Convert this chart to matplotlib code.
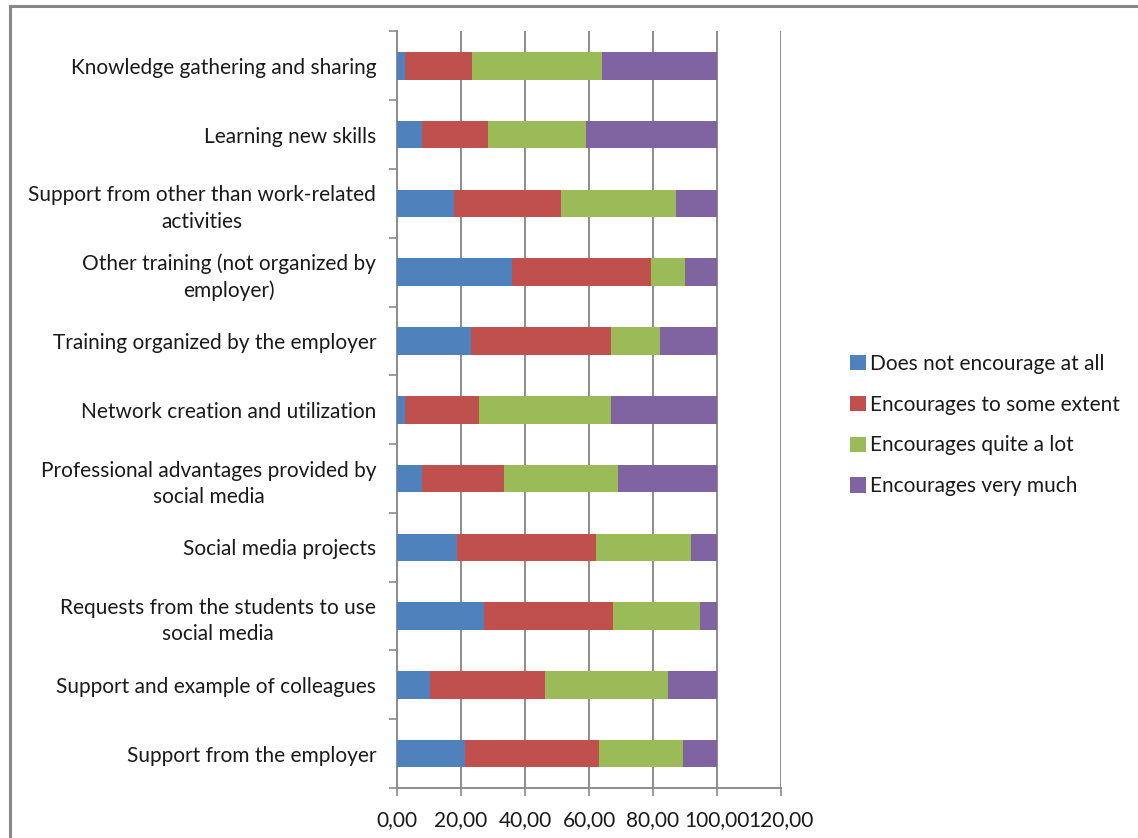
import matplotlib
matplotlib.use("Agg")
import matplotlib.pyplot as plt
from matplotlib.patches import Rectangle
import numpy as np

categories = [
    "Knowledge gathering and sharing",
    "Learning new skills",
    "Support from other than work-related\nactivities",
    "Other training (not organized by\nemployer)",
    "Training organized by the employer",
    "Network creation and utilization",
    "Professional advantages provided by\nsocial media",
    "Social media projects",
    "Requests from the students to use\nsocial media",
    "Support and example of colleagues",
    "Support from the employer",
]
not_at_all = [2.6, 7.7, 17.8, 35.8, 23.2, 2.6, 7.7, 18.9, 27.1, 10.3, 21.4]
some_extent = [20.7, 20.7, 33.4, 43.6, 43.7, 23.0, 25.7, 43.2, 40.4, 35.8, 41.7]
quite_a_lot = [40.8, 30.6, 36.0, 10.6, 15.2, 41.2, 35.8, 29.9, 27.2, 38.7, 26.4]
very_much = [35.9, 41.0, 12.8, 10.0, 17.9, 33.2, 30.8, 8.0, 5.3, 15.2, 10.5]
series_names = ["Does not encourage at all", "Encourages to some extent",
                "Encourages quite a lot", "Encourages very much"]
colors = ["#4F81BD", "#C0504D", "#9BBB59", "#8064A2"]
xticks = [0, 20, 40, 60, 80, 100, 120]
xtick_labels = ["0,00", "20,00", "40,00", "60,00", "80,00", "100,00", "120,00"]

plt.rcParams['font.family'] = ['Lato', 'DejaVu Sans']
W, H = 1138, 838
fig = plt.figure(figsize=(W / 100, H / 100), dpi=100)
ax = fig.add_axes([397 / W, (H - 788) / H, 384 / W, 756.5 / H])

ypos = np.arange(len(categories))
left = np.zeros(len(categories))
for vals, name, c in zip([not_at_all, some_extent, quite_a_lot, very_much], series_names, colors):
    ax.barh(ypos, vals, left=left, height=0.4, color=c, label=name, zorder=3)
    left += np.array(vals)

grid_c = "#8c8c8c"
ax.set_xlim(0, 120)
ax.set_ylim(len(categories) - 0.5, -0.5)
ax.set_xticks(xticks)
ax.set_xticklabels(xtick_labels)
ax.xaxis.grid(True, color=grid_c, linewidth=1.4, zorder=0)
ax.set_yticks(ypos)
ax.set_yticklabels(categories, multialignment="center", linespacing=1.4)
ax.set_yticks(np.arange(len(categories) + 1) - 0.5, minor=True)
ax.tick_params(axis="y", which="major", length=0, pad=15, labelsize=15, labelcolor="#1a1a1a")
ax.tick_params(axis="y", which="minor", length=6, width=1.2, color=grid_c)
ax.tick_params(axis="x", which="major", length=6, width=1.2, color=grid_c, pad=10,
               labelsize=15, labelcolor="#1a1a1a")
for s in ["top", "right"]:
    ax.spines[s].set_visible(False)
for s in ["left", "bottom"]:
    ax.spines[s].set_color(grid_c)
    ax.spines[s].set_linewidth(1.4)

fig.legend(loc="center left", bbox_to_anchor=(850 / W, (H - 425) / H), frameon=False,
           fontsize=15, handlelength=0.75, handleheight=0.75, handletextpad=0.2,
           labelspacing=1.0, labelcolor="#1a1a1a", borderaxespad=0, borderpad=0)

fig.patches.append(Rectangle((10 / W, -0.05), 1.2, 1 - 6.5 / H + 0.05, transform=fig.transFigure,
                             fill=False, edgecolor="#888888", linewidth=2.2))
fig.savefig("out.png", dpi=100, facecolor="white")
